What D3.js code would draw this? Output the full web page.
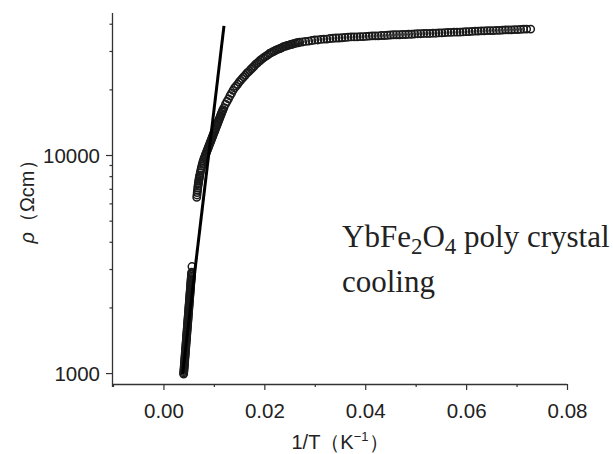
<!DOCTYPE html>
<html>
<head>
<meta charset="utf-8">
<script src="https://cdn.jsdelivr.net/npm/d3@7"></script>
<style>
  body { margin: 0; background: #fff; }
  .chart text { font-family: "Liberation Sans", Arial, sans-serif; fill: #222; }
</style>
</head>
<body>
<div class="chart"></div>
<script>
// data ============================================================ //

// 1/T (K^-1)
var invT = [
  0.00400, 0.00404, 0.00408, 0.00412, 0.00416, 0.00420, 0.00424, 0.00428, 0.00432, 0.00436,
  0.00440, 0.00444, 0.00448, 0.00452, 0.00456, 0.00460, 0.00464, 0.00468, 0.00472, 0.00476,
  0.00480, 0.00484, 0.00488, 0.00492, 0.00496, 0.00500, 0.00504, 0.00508, 0.00512, 0.00516,
  0.00520, 0.00524, 0.00528, 0.00532, 0.00536, 0.00540, 0.00544, 0.00548, 0.00552, 0.00556,
  0.00560, 0.00565,
  0.0066, 0.0067, 0.0068, 0.0069, 0.0070, 0.0071, 0.0072, 0.0074, 0.0076, 0.0078,
  0.0080, 0.0082, 0.0084, 0.0086, 0.0088, 0.0090, 0.0092, 0.0094, 0.0096, 0.0098,
  0.0100, 0.0102, 0.0104, 0.0106, 0.0108, 0.0110, 0.0112, 0.0114, 0.0116, 0.0118,
  0.0120, 0.0123, 0.0126, 0.0129, 0.0132, 0.0135, 0.0138, 0.0141, 0.0144, 0.0147,
  0.0150, 0.0153, 0.0156, 0.0159, 0.0162, 0.0165, 0.0168, 0.0171, 0.0174, 0.0177,
  0.0180, 0.0183, 0.0186, 0.0189, 0.0192, 0.0195, 0.0198, 0.0201, 0.0204, 0.0207,
  0.0210, 0.0213, 0.0216, 0.0219, 0.0222, 0.0225, 0.0228, 0.0231, 0.0234, 0.0237,
  0.0240, 0.0243, 0.0246, 0.0249, 0.0252, 0.0255, 0.0258, 0.0261, 0.0264, 0.0267,
  0.0270, 0.0276, 0.0282, 0.0288, 0.0294, 0.0300, 0.0306, 0.0312, 0.0318, 0.0324,
  0.0330, 0.0336, 0.0342, 0.0348, 0.0354, 0.0360, 0.0366, 0.0372, 0.0378, 0.0384,
  0.0390, 0.0396, 0.0402, 0.0408, 0.0414, 0.0420, 0.0426, 0.0432, 0.0438, 0.0444,
  0.0450, 0.0456, 0.0462, 0.0468, 0.0474, 0.0480, 0.0486, 0.0492, 0.0498, 0.0504,
  0.0510, 0.0516, 0.0522, 0.0528, 0.0534, 0.0540, 0.0546, 0.0552, 0.0558, 0.0564,
  0.0570, 0.0576, 0.0582, 0.0588, 0.0594, 0.0600, 0.0606, 0.0612, 0.0618, 0.0624,
  0.0630, 0.0636, 0.0642, 0.0648, 0.0654, 0.0660, 0.0666, 0.0672, 0.0678, 0.0684,
  0.0690, 0.0696, 0.0702, 0.0708, 0.0714, 0.0720, 0.0728
];

// rho (Ohm cm)
var rho = [
  989, 1016, 1043, 1072, 1101, 1131, 1162, 1194, 1226, 1259,
  1293, 1329, 1365, 1402, 1440, 1480, 1520, 1562, 1604, 1648,
  1693, 1739, 1786, 1835, 1885, 1936, 1989, 2044, 2099, 2156,
  2215, 2276, 2338, 2401, 2467, 2534, 2603, 2674, 2747, 2822,
  2899, 3080,
  6400, 6730, 7060, 7350, 7600, 7850, 8090, 8510, 8890, 9250,
  9570, 9840, 10120, 10400, 10690, 10990, 11300, 11610, 11940, 12270,
  12620, 12970, 13340, 13710, 14090, 14490, 14890, 15310, 15740, 16140,
  16500, 17100, 17600, 18100, 18700, 19200, 19800, 20300, 20700, 21100,
  21600, 22000, 22400, 22800, 23200, 23700, 24000, 24400, 24800, 25200,
  25600, 26100, 26400, 26800, 27200, 27500, 27900, 28200, 28500, 28800,
  29200, 29400, 29700, 29900, 30200, 30400, 30600, 30800, 31000, 31300,
  31500, 31600, 31800, 31900, 32100, 32200, 32400, 32500, 32700, 32700,
  32900, 33000, 33200, 33300, 33500, 33700, 33700, 33900, 34000, 34000,
  34200, 34300, 34400, 34400, 34500, 34600, 34700, 34800, 34800, 34800,
  34900, 34900, 35000, 35100, 35200, 35200, 35200, 35300, 35300, 35400,
  35500, 35600, 35600, 35600, 35700, 35700, 35800, 35800, 35900, 36000,
  36000, 36100, 36100, 36100, 36200, 36200, 36300, 36300, 36400, 36500,
  36500, 36600, 36600, 36600, 36700, 36800, 36800, 36900, 37000, 37000,
  37100, 37100, 37200, 37200, 37200, 37300, 37300, 37400, 37500, 37500,
  37500, 37600, 37600, 37700, 37800, 37800, 37800
];

// the high-T part is a solid black band in the picture: extra readings along it
var steepInvT = [
  0.00402, 0.00406, 0.00410, 0.00414, 0.00418, 0.00422, 0.00426, 0.00430, 0.00434, 0.00438,
  0.00442, 0.00446, 0.00450, 0.00454, 0.00458, 0.00462, 0.00466, 0.00470, 0.00474, 0.00478,
  0.00482, 0.00486, 0.00490, 0.00494, 0.00498, 0.00502, 0.00506, 0.00510, 0.00514, 0.00518,
  0.00522, 0.00526, 0.00530, 0.00534, 0.00538, 0.00542, 0.00546, 0.00550, 0.00554, 0.00558,
  0.00665, 0.00675, 0.00685, 0.00695, 0.00705, 0.00715,
  0.0073, 0.0075, 0.0077, 0.0079, 0.0081, 0.0083, 0.0085, 0.0087, 0.0089, 0.0091,
  0.0093, 0.0095, 0.0097, 0.0099, 0.0101, 0.0103, 0.0105, 0.0107, 0.0109, 0.0111,
  0.0113, 0.0115, 0.0117
];
var steepRho = [
  1002, 1029, 1057, 1086, 1116, 1146, 1178, 1210, 1242, 1276,
  1311, 1347, 1383, 1421, 1460, 1500, 1541, 1583, 1626, 1670,
  1716, 1762, 1810, 1860, 1910, 1962, 2016, 2071, 2127, 2185,
  2245, 2307, 2369, 2434, 2500, 2568, 2638, 2710, 2784, 2860,
  6560, 6890, 7200, 7470, 7720, 7970,
  8300, 8700, 9070, 9410, 9700, 9980, 10260, 10540, 10840, 11140,
  11450, 11770, 12100, 12440, 12790, 13150, 13520, 13900, 14290, 14690,
  15100, 15520, 15940
];

// straight Arrhenius fit line, two end points
var fitInvT = [0.0038, 0.0120];
var fitRho = [990, 39100];

// axes
var xDomain = [-0.01, 0.08];
var xMajor = [0.00, 0.02, 0.04, 0.06, 0.08];
var xMinor = [-0.01, 0.01, 0.03, 0.05, 0.07];
var yDomain = [891, 44800];
var yMajor = [1000, 10000];
var yMinor = [2000, 3000, 4000, 5000, 6000, 7000, 8000, 9000, 20000, 30000, 40000];

// drawing ========================================================= //

var W = 613, H = 454;
var margin = { top: 13, right: 46, bottom: 70, left: 113 };

var svg = d3
  .select(".chart")
  .append("svg")
  .attr("width", W)
  .attr("height", H);

svg.append("rect").attr("width", W).attr("height", H).attr("fill", "#fff");

var x = d3
  .scaleLinear()
  .domain(xDomain)
  .range([margin.left, W - margin.right]);

var y = d3
  .scaleLog()
  .domain(yDomain)
  .range([H - margin.bottom, margin.top]);

var points = invT.map(function (d, i) {
  return { x: d, y: rho[i] };
});
steepInvT.forEach(function (d, i) {
  points.push({ x: d, y: steepRho[i] });
});

// data circles (open, heavily overlapping)
svg
  .append("g")
  .attr("id", "points")
  .selectAll("circle")
  .data(points)
  .enter()
  .append("circle")
  .attr("cx", function (d) { return x(d.x); })
  .attr("cy", function (d) { return y(d.y); })
  .attr("r", 3.7)
  .attr("fill", "none")
  .attr("stroke", "#1a1a1a")
  .attr("stroke-width", 1.5);

// fit line
var fit = fitInvT.map(function (d, i) {
  return [d, fitRho[i]];
});
svg
  .append("path")
  .datum(fit)
  .attr("fill", "none")
  .attr("stroke", "#000")
  .attr("stroke-width", 3)
  .attr(
    "d",
    d3.line()
      .x(function (d) { return x(d[0]); })
      .y(function (d) { return y(d[1]); })
  );

// x axis
var xAxisY = H - margin.bottom;
var xMajAxis = svg
  .append("g")
  .attr("transform", "translate(0," + xAxisY + ")")
  .call(
    d3.axisBottom(x)
      .tickValues(xMajor)
      .tickSize(6)
      .tickPadding(13)
      .tickFormat(d3.format(".2f"))
  );
var xMinAxis = svg
  .append("g")
  .attr("transform", "translate(0," + xAxisY + ")")
  .call(d3.axisBottom(x).tickValues(xMinor).tickSize(3).tickFormat(""));

// y axis
var yMajAxis = svg
  .append("g")
  .attr("transform", "translate(" + margin.left + ",0)")
  .call(
    d3.axisLeft(y)
      .tickValues(yMajor)
      .tickSize(7)
      .tickPadding(6)
      .tickFormat(d3.format("d"))
  );
var yMinAxis = svg
  .append("g")
  .attr("transform", "translate(" + margin.left + ",0)")
  .call(d3.axisLeft(y).tickValues(yMinor).tickSize(3.5).tickFormat(""));

[xMajAxis, xMinAxis, yMajAxis, yMinAxis].forEach(function (g) {
  g.select(".domain")
    .attr("stroke", "#333")
    .attr("stroke-width", 1.3);
  g.selectAll(".tick line")
    .attr("stroke", "#333")
    .attr("stroke-width", 1.2);
  g.selectAll(".tick text")
    .attr("font-size", 20.5)
    .attr("font-family", "Liberation Sans, Arial, sans-serif")
    .attr("fill", "#222");
});
// plain lines, no end caps on the domain
xMajAxis.select(".domain").attr("d", "M" + margin.left + ",0.5H" + x(0.08));
xMinAxis.select(".domain").remove();
yMajAxis.select(".domain").attr("d", "M-0.5," + (xAxisY + 3) + "V" + margin.top);
yMinAxis.select(".domain").remove();
yMajAxis.selectAll(".tick text").attr("dy", "0.36em");

// axis titles
svg
  .append("text")
  .attr("x", 340)
  .attr("y", 449)
  .attr("text-anchor", "middle")
  .attr("font-size", 20)
  .html('1/T（K<tspan dy="-8" font-size="13">−1</tspan><tspan dy="8">）</tspan>');

svg
  .append("text")
  .attr("transform", "translate(34,197) rotate(-90)")
  .attr("text-anchor", "middle")
  .attr("font-size", 20)
  .html('<tspan font-style="italic">ρ</tspan>（Ωcm）');

// annotation
var note = svg
  .append("text")
  .attr("x", 342)
  .attr("y", 247)
  .attr("font-size", 31)
  .style("font-family", "'Liberation Serif', 'Times New Roman', serif")
  .attr("fill", "#111");
note.append("tspan").text("YbFe");
note.append("tspan").attr("dy", 7).attr("font-size", 23).text("2");
note.append("tspan").attr("dy", -7).text("O");
note.append("tspan").attr("dy", 7).attr("font-size", 23).text("4");
note.append("tspan").attr("dy", -7).text(" poly crystal");

svg
  .append("text")
  .attr("x", 342)
  .attr("y", 292)
  .attr("font-size", 31)
  .style("font-family", "'Liberation Serif', 'Times New Roman', serif")
  .attr("fill", "#111")
  .text("cooling");
</script>
</body>
</html>
